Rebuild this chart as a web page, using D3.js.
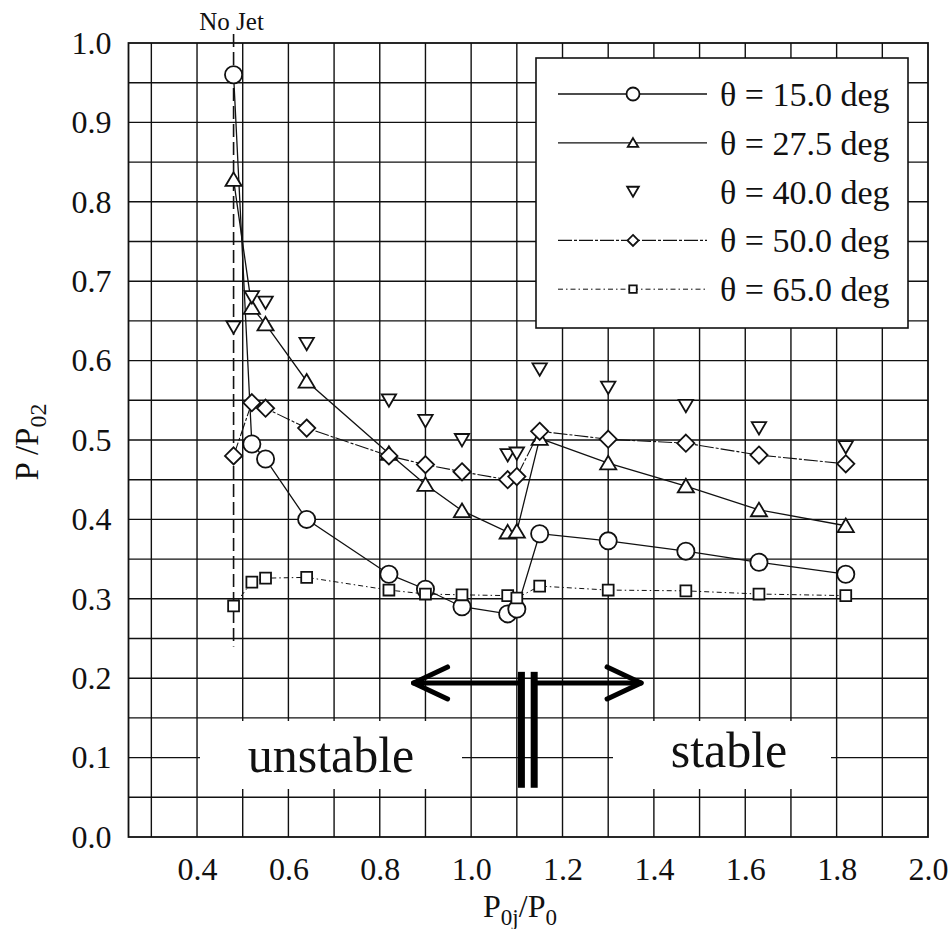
<!DOCTYPE html>
<html>
<head>
<meta charset="utf-8">
<script src="https://cdn.jsdelivr.net/npm/d3@7"></script>
<style>
  body { margin: 0; background: #fff; }
  svg { display: block; font-family: "Liberation Serif", "Times New Roman", serif; }
  .grid line { stroke: #111; stroke-width: 1.4; }
  .tick-label { font-size: 32px; fill: #111; }
</style>
</head>
<body>
<div id="container"></div>
<script>
// ---- data ----
var xVals = [0.48, 0.52, 0.55, 0.64, 0.82, 0.90, 0.98, 1.08, 1.10, 1.15, 1.30, 1.47, 1.63, 1.82];

var theta15 = [0.960, 0.495, 0.476, 0.400, 0.331, 0.312, 0.290, 0.281, 0.287, 0.382, 0.373, 0.360, 0.346, 0.331];
var theta275 = [0.828, 0.667, 0.646, 0.574, 0.483, 0.444, 0.411, 0.384, 0.385, 0.502, 0.471, 0.442, 0.412, 0.392];
var theta40 = [0.642, 0.680, 0.673, 0.621, 0.550, 0.524, 0.500, 0.481, 0.483, 0.589, 0.566, 0.543, 0.515, 0.491];
var theta50 = [0.480, 0.547, 0.540, 0.515, 0.480, 0.469, 0.460, 0.450, 0.454, 0.511, 0.501, 0.496, 0.481, 0.470];
var theta65 = [0.291, 0.321, 0.326, 0.327, 0.311, 0.306, 0.305, 0.304, 0.301, 0.316, 0.311, 0.310, 0.306, 0.304];

var seriesNames = ["\u03B8 = 15.0 deg", "\u03B8 = 27.5 deg", "\u03B8 = 40.0 deg", "\u03B8 = 50.0 deg", "\u03B8 = 65.0 deg"];

var xTicks = [0.4, 0.6, 0.8, 1.0, 1.2, 1.4, 1.6, 1.8, 2.0];
var yTicks = [0.0, 0.1, 0.2, 0.3, 0.4, 0.5, 0.6, 0.7, 0.8, 0.9, 1.0];

var noJetX = 0.48;          // dashed "No Jet" line
var noJetBottom = 0.24;
var arrowY = 0.194;         // stability arrows
var arrowTips = [0.874, 1.372];
var barX = [1.110, 1.138];
var barY = [0.062, 0.208];

// ---- layout ----
var W = 951, H = 929;
var svg = d3.select("#container").append("svg")
    .attr("width", W).attr("height", H);
svg.append("rect").attr("width", W).attr("height", H).attr("fill", "#fff");

var x = d3.scaleLinear().domain([0.25, 2.0]).range([128.5, 928]);
var y = d3.scaleLinear().domain([0, 1]).range([837, 43]);

// grid
var grid = svg.append("g").attr("class", "grid");
grid.selectAll("line.v").data(d3.range(3, 20).map(function(d){ return d / 10; }))
  .enter().append("line")
    .attr("x1", function(d){ return x(d); }).attr("x2", function(d){ return x(d); })
    .attr("y1", y(0)).attr("y2", y(1));
grid.selectAll("line.h").data(d3.range(1, 20).map(function(d){ return d / 20; }))
  .enter().append("line")
    .attr("y1", function(d){ return y(d); }).attr("y2", function(d){ return y(d); })
    .attr("x1", x(0.25)).attr("x2", x(2.0));

svg.append("rect")
    .attr("x", x(0.25)).attr("y", y(1))
    .attr("width", x(2.0) - x(0.25)).attr("height", y(0) - y(1))
    .attr("fill", "none").attr("stroke", "#111").attr("stroke-width", 1.8);

// white text boxes over the grid
svg.append("rect").attr("x", 200).attr("y", 721).attr("width", 262).attr("height", 68).attr("fill", "#fff");
svg.append("rect").attr("x", 613).attr("y", 721).attr("width", 218).attr("height", 68).attr("fill", "#fff");
svg.append("text").attr("x", 331).attr("y", 772).attr("text-anchor", "middle")
    .style("font-size", "50px").attr("fill", "#111").text("unstable");
svg.append("text").attr("x", 729).attr("y", 767).attr("text-anchor", "middle")
    .style("font-size", "50px").attr("fill", "#111").text("stable");

// axes tick labels
var xAxis = d3.axisBottom(x).tickValues(xTicks).tickSize(0).tickPadding(20)
    .tickFormat(d3.format(".1f"));
var gx = svg.append("g").attr("transform", "translate(0," + y(0) + ")").call(xAxis);
gx.select(".domain").remove();
gx.selectAll("text").attr("class", "tick-label").attr("dy", "0.71em")
    .style("font-family", "Liberation Serif").style("font-size", "32px").attr("fill", "#111");

var yAxis = d3.axisLeft(y).tickValues(yTicks).tickSize(0).tickPadding(17)
    .tickFormat(d3.format(".1f"));
var gy = svg.append("g").attr("transform", "translate(" + x(0.25) + ",0)").call(yAxis);
gy.select(".domain").remove();
gy.selectAll("text").attr("class", "tick-label")
    .style("font-family", "Liberation Serif").style("font-size", "32px").attr("fill", "#111");

// axis titles
var xt = svg.append("text").attr("x", 520).attr("y", 917).attr("text-anchor", "middle")
    .style("font-size", "32px").attr("fill", "#111");
xt.append("tspan").text("P");
xt.append("tspan").attr("dy", 8).style("font-size", "23px").text("0j");
xt.append("tspan").attr("dy", -8).text("/P");
xt.append("tspan").attr("dy", 8).style("font-size", "23px").text("0");

var yt = svg.append("text").attr("transform", "translate(38,442) rotate(-90)")
    .attr("text-anchor", "middle").style("font-size", "33px").attr("fill", "#111");
yt.append("tspan").text("P /P");
yt.append("tspan").attr("dy", 8).style("font-size", "24px").text("02");

// stability arrows and bars
var arrows = svg.append("g").attr("stroke", "#000").attr("fill", "none")
    .attr("stroke-width", 5).attr("stroke-linecap", "round").attr("stroke-linejoin", "round");
arrows.append("line").attr("x1", x(arrowTips[0])).attr("x2", x(barX[0])).attr("y1", y(arrowY)).attr("y2", y(arrowY));
arrows.append("line").attr("x1", x(barX[1])).attr("x2", x(arrowTips[1])).attr("y1", y(arrowY)).attr("y2", y(arrowY));
arrows.append("path").attr("d", "M" + (x(arrowTips[0]) + 34) + "," + (y(arrowY) - 16) + "L" + x(arrowTips[0]) + "," + y(arrowY) + "L" + (x(arrowTips[0]) + 34) + "," + (y(arrowY) + 16));
arrows.append("path").attr("d", "M" + (x(arrowTips[1]) - 34) + "," + (y(arrowY) - 16) + "L" + x(arrowTips[1]) + "," + y(arrowY) + "L" + (x(arrowTips[1]) - 34) + "," + (y(arrowY) + 16));
barX.forEach(function(b){
  svg.append("rect").attr("x", x(b) - 3.5).attr("y", y(barY[1]))
     .attr("width", 7).attr("height", y(barY[0]) - y(barY[1])).attr("fill", "#000");
});

// legend box
var lg = svg.append("g");
lg.append("rect").attr("x", 536).attr("y", 58).attr("width", 372).attr("height", 270)
    .attr("fill", "#fff").attr("stroke", "#111").attr("stroke-width", 1.6);

// marker shapes
function marker(type, s) {
  switch (type) {
    case "circle": return d3.symbol().type(d3.symbolCircle).size(Math.PI * s * s)();
    case "up": return "M0," + (-s * 0.85) + "L" + (s * 0.95) + "," + (s * 0.75) + "L" + (-s * 0.95) + "," + (s * 0.75) + "Z";
    case "down": return "M0," + (s * 0.8) + "L" + (s * 0.9) + "," + (-s * 0.75) + "L" + (-s * 0.9) + "," + (-s * 0.75) + "Z";
    case "diamond": return "M0," + (-s) + "L" + s + ",0L0," + s + "L" + (-s) + ",0Z";
    case "square": return "M" + (-s * 0.68) + "," + (-s * 0.68) + "h" + (s * 1.36) + "v" + (s * 1.36) + "h" + (-s * 1.36) + "Z";
  }
}

var series = [
  { vals: theta15,  type: "circle",  size: 8.6, line: true,  dash: null,        lw: 1.3 },
  { vals: theta275, type: "up",      size: 8.5, line: true,  dash: null,        lw: 1.3 },
  { vals: theta40,  type: "down",    size: 8.0, line: false, dash: null,        lw: 1.3 },
  { vals: theta50,  type: "diamond", size: 8.6, line: true,  dash: "14,2,3,2",  lw: 1.1 },
  { vals: theta65,  type: "square",  size: 8.0, line: true,  dash: "5,3,1.5,3", lw: 1.0 }
];
var legendSizes = [6.5, 5.5, 6.5, 5.5, 5.5];

var line = d3.line()
    .x(function(d){ return x(d[0]); })
    .y(function(d){ return y(d[1]); });

// "No Jet" dashed line
svg.append("line").attr("x1", x(noJetX)).attr("x2", x(noJetX))
    .attr("y1", 34).attr("y2", y(noJetBottom))
    .attr("stroke", "#111").attr("stroke-width", 1.6).attr("stroke-dasharray", "13,5");
svg.append("text").attr("x", x(noJetX) - 2).attr("y", 30).attr("text-anchor", "middle")
    .style("font-size", "25px").attr("fill", "#111").text("No Jet");

series.forEach(function(s, i){
  var pts = xVals.map(function(xv, j){ return [xv, s.vals[j]]; });
  if (s.line) {
    svg.append("path").datum(pts).attr("d", line)
      .attr("fill", "none").attr("stroke", "#111").attr("stroke-width", s.lw)
      .attr("stroke-dasharray", s.dash);
  }
  svg.append("g").selectAll("path").data(pts).enter().append("path")
    .attr("transform", function(d){ return "translate(" + x(d[0]) + "," + y(d[1]) + ")"; })
    .attr("d", marker(s.type, s.size))
    .attr("fill", "#fff").attr("stroke", "#111").attr("stroke-width", 1.8);

  // legend row
  var ry = 94 + i * 48.8;
  if (s.line) {
    lg.append("line").attr("x1", 558).attr("x2", 707).attr("y1", ry).attr("y2", ry)
      .attr("stroke", "#111").attr("stroke-width", s.lw).attr("stroke-dasharray", s.dash);
  }
  lg.append("path").attr("transform", "translate(633," + ry + ")")
    .attr("d", marker(s.type, legendSizes[i]))
    .attr("fill", "#fff").attr("stroke", "#111").attr("stroke-width", 1.8);
  lg.append("text").attr("x", 720).attr("y", ry + 12)
    .style("font-size", "34px").attr("fill", "#111").text(seriesNames[i]);
});
</script>
</body>
</html>
